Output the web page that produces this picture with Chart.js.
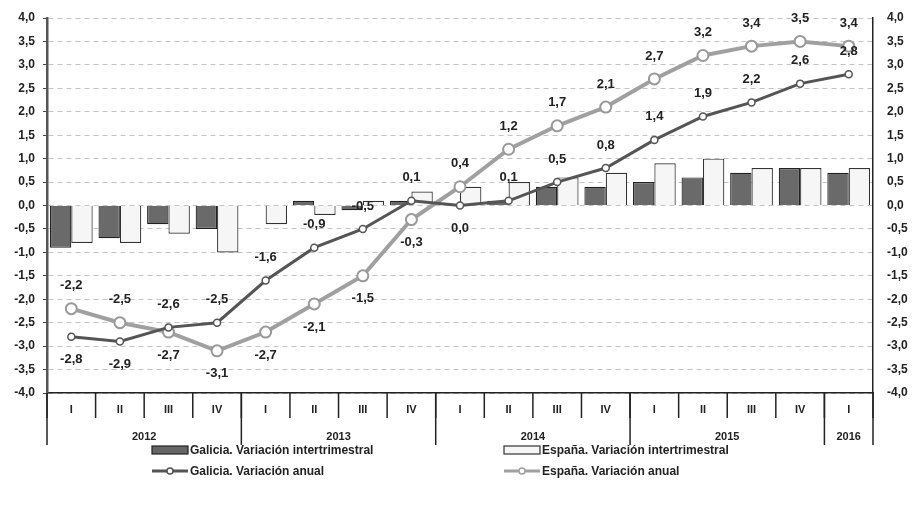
<!DOCTYPE html>
<html>
<head>
<meta charset="utf-8">
<script src="https://cdn.jsdelivr.net/npm/chart.js@4"></script>
<style>
  html, body { margin: 0; padding: 0; background: #fff; }
  #wrap { width: 916px; height: 508px; position: relative; }
</style>
</head>
<body>
<div id="wrap"><canvas id="grafico" width="916" height="508"></canvas></div>
<script>
const quarters = ['I', 'II', 'III', 'IV', 'I', 'II', 'III', 'IV', 'I', 'II', 'III', 'IV', 'I', 'II', 'III', 'IV', 'I'];
const years = ['2012', '2013', '2014', '2015', '2016'];
const quartersPerYear = [4, 4, 4, 4, 1];

const galiciaTrim = [-0.9, -0.7, -0.4, -0.5, 0.0, 0.1, -0.1, 0.1, 0.0, 0.1, 0.4, 0.4, 0.5, 0.6, 0.7, 0.8, 0.7];
const espanaTrim = [-0.8, -0.8, -0.6, -1.0, -0.4, -0.2, 0.1, 0.3, 0.4, 0.5, 0.6, 0.7, 0.9, 1.0, 0.8, 0.8, 0.8];
const galiciaAnual = [-2.8, -2.9, -2.6, -2.5, -1.6, -0.9, -0.5, 0.1, 0.0, 0.1, 0.5, 0.8, 1.4, 1.9, 2.2, 2.6, 2.8];
const espanaAnual = [-2.2, -2.5, -2.7, -3.1, -2.7, -2.1, -1.5, -0.3, 0.4, 1.2, 1.7, 2.1, 2.7, 3.2, 3.4, 3.5, 3.4];

// 1 = label above the point, -1 = below
const posGalicia = [-1, -1, 1, 1, 1, 1, 1, 1, -1, 1, 1, 1, 1, 1, 1, 1, 1];
const posEspana = [1, 1, -1, -1, -1, -1, -1, -1, 1, 1, 1, 1, 1, 1, 1, 1, 1];

const FONT = "'Liberation Sans Narrow', 'Liberation Sans', Arial, sans-serif";
const fmt = v => v.toFixed(1).replace('.', ',');

const etiquetas = {
    id: 'etiquetas',
    afterDatasetsDraw(chart) {
        const ctx = chart.ctx;
        ctx.save();
        ctx.font = 'bold 13px ' + FONT;
        ctx.fillStyle = '#222';
        ctx.textAlign = 'center';
        ctx.textBaseline = 'middle';
        [[2, posGalicia], [3, posEspana]].forEach(([i, pos]) => {
            const meta = chart.getDatasetMeta(i);
            meta.data.forEach((pt, j) => {
                const v = chart.data.datasets[i].data[j];
                ctx.fillText(fmt(v), pt.x, pt.y - pos[j] * 23);
            });
        });
        ctx.restore();
    },
    afterDraw(chart) {
        const ctx = chart.ctx;
        const x = chart.scales.x;
        const area = chart.chartArea;
        const w = (area.right - area.left) / quarters.length;
        ctx.save();
        ctx.strokeStyle = '#222';
        ctx.lineWidth = 1.5;
        ctx.fillStyle = '#222';
        ctx.textAlign = 'center';
        ctx.textBaseline = 'middle';
        ctx.font = 'bold 11px ' + FONT;
        // quarter separators and labels
        for (let i = 0; i <= quarters.length; i++) {
            const px = area.left + i * w;
            ctx.beginPath();
            ctx.moveTo(px, area.bottom);
            ctx.lineTo(px, area.bottom + 25);
            ctx.stroke();
        }
        quarters.forEach((q, i) => ctx.fillText(q, x.getPixelForValue(i), area.bottom + 17));
        // year separators and labels
        let k = 0;
        ctx.beginPath();
        ctx.moveTo(area.left, area.bottom);
        ctx.lineTo(area.left, area.bottom + 52);
        ctx.stroke();
        years.forEach((y, i) => {
            const start = area.left + k * w;
            k += quartersPerYear[i];
            const end = area.left + k * w;
            ctx.beginPath();
            ctx.moveTo(end, area.bottom);
            ctx.lineTo(end, area.bottom + 52);
            ctx.stroke();
            ctx.fillText(y, (start + end) / 2, area.bottom + 44);
        });

        // legend, 2 x 2
        const items = [
            { t: 'Galicia. Variación intertrimestral', type: 'bar', fill: '#666', stroke: '#222', x: 152, y: 450 },
            { t: 'España. Variación intertrimestral', type: 'bar', fill: '#f6f6f6', stroke: '#333', x: 504, y: 450 },
            { t: 'Galicia. Variación anual', type: 'line', color: '#555', x: 152, y: 471 },
            { t: 'España. Variación anual', type: 'line', color: '#a0a0a0', x: 504, y: 471 }
        ];
        ctx.textAlign = 'left';
        ctx.font = 'bold 12px ' + FONT;
        items.forEach(it => {
            if (it.type === 'bar') {
                ctx.fillStyle = it.fill;
                ctx.strokeStyle = it.stroke;
                ctx.lineWidth = 1.2;
                ctx.fillRect(it.x, it.y - 4, 36, 8);
                ctx.strokeRect(it.x, it.y - 4, 36, 8);
            } else {
                ctx.strokeStyle = it.color;
                ctx.lineWidth = 3;
                ctx.beginPath();
                ctx.moveTo(it.x, it.y);
                ctx.lineTo(it.x + 36, it.y);
                ctx.stroke();
                ctx.fillStyle = '#fff';
                ctx.lineWidth = 1.5;
                ctx.beginPath();
                ctx.arc(it.x + 18, it.y, 3, 0, Math.PI * 2);
                ctx.fill();
                ctx.stroke();
            }
            ctx.fillStyle = '#222';
            ctx.fillText(it.t, it.x + 38, it.y + 1);
        });
        ctx.restore();
    }
};

const ctxGrafico = document.getElementById('grafico');
new Chart(ctxGrafico, {
    type: 'bar',
    data: {
        labels: quarters,
        datasets: [
            {
                type: 'bar',
                label: 'Galicia. Variación intertrimestral',
                data: galiciaTrim,
                backgroundColor: '#6a6a6a',
                borderColor: '#222',
                borderWidth: 1.2,
                order: 2
            },
            {
                type: 'bar',
                label: 'España. Variación intertrimestral',
                data: espanaTrim,
                backgroundColor: '#f6f6f6',
                borderColor: '#333',
                borderWidth: 1.2,
                order: 2
            },
            {
                type: 'line',
                label: 'Galicia. Variación anual',
                data: galiciaAnual,
                borderColor: '#555',
                borderWidth: 3,
                pointRadius: 3.5,
                pointBackgroundColor: '#fff',
                pointBorderColor: '#555',
                pointBorderWidth: 1.5,
                tension: 0,
                order: 0
            },
            {
                type: 'line',
                label: 'España. Variación anual',
                data: espanaAnual,
                borderColor: '#a0a0a0',
                borderWidth: 4,
                pointRadius: 5.5,
                pointBackgroundColor: '#fff',
                pointBorderColor: '#999',
                pointBorderWidth: 2,
                tension: 0,
                order: 1
            }
        ]
    },
    options: {
        responsive: false,
        animation: false,
        layout: { padding: { top: 18, right: 0, left: 0, bottom: 0 } },
        datasets: { bar: { categoryPercentage: 0.88, barPercentage: 1.0 } },
        scales: {
            x: {
                ticks: { display: false },
                grid: { display: false },
                border: { color: '#222', width: 1.5 },
                afterFit(scale) { scale.height = 115; }
            },
            y: {
                position: 'left',
                min: -4, max: 4,
                ticks: {
                    stepSize: 0.5,
                    padding: 8,
                    callback: v => fmt(v),
                    color: '#222',
                    font: { family: FONT, size: 12, weight: 'bold' }
                },
                grid: { color: '#c4c4c4', tickColor: '#444', tickLength: 4, drawTicks: true },
                border: { color: '#555', width: 2.5, dash: [5, 4] },
                afterFit(scale) { scale.width = 47; }
            },
            y2: {
                position: 'right',
                min: -4, max: 4,
                ticks: {
                    stepSize: 0.5,
                    padding: 10,
                    callback: v => fmt(v),
                    color: '#222',
                    font: { family: FONT, size: 12, weight: 'bold' }
                },
                grid: { display: false, tickLength: 4 },
                border: { color: '#222', width: 1.5 },
                afterFit(scale) { scale.width = 43; }
            }
        },
        plugins: {
            legend: { display: false },
            tooltip: { enabled: false }
        }
    },
    plugins: [etiquetas]
});
</script>
</body>
</html>
